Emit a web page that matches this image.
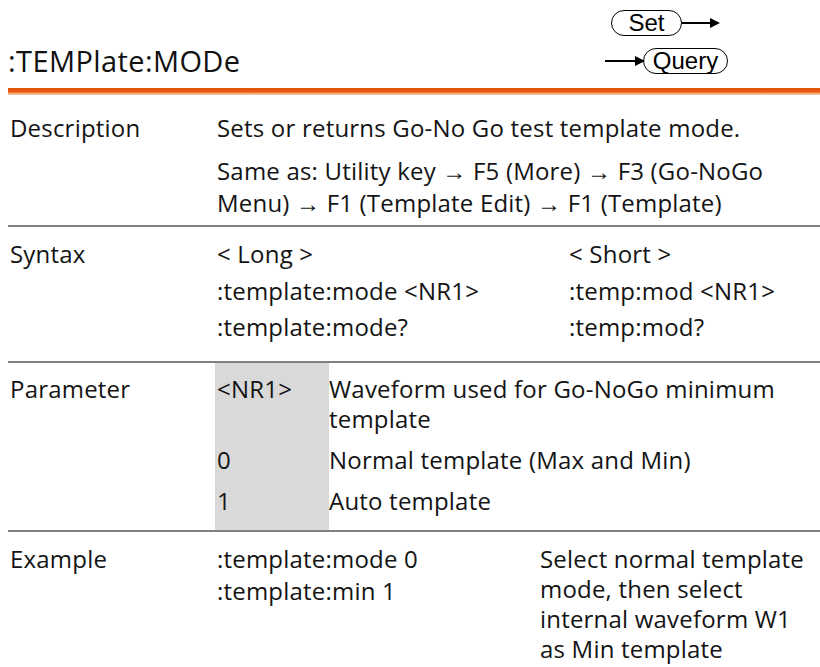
<!DOCTYPE html>
<html>
<head>
<meta charset="utf-8">
<script src="https://cdn.jsdelivr.net/npm/chart.js@4.4.1/dist/chart.umd.min.js"></script>
<style>
  html, body { margin: 0; padding: 0; background: #fff; }
  #page { position: relative; width: 820px; height: 667px; overflow: hidden;
          font-family: "Open Sans", "Noto Sans", sans-serif; color: #141414; }
  .ln { position: absolute; white-space: nowrap; font-size: 24px; line-height: 36px; letter-spacing: 0.2px; }
  .title { position: absolute; left: 8px; font-size: 29px; white-space: nowrap; line-height: 36px; letter-spacing: 0.4px; color: #111; }
  .rule { position: absolute; left: 8px; right: 0; height: 2px; background: #808080; }
  .orange { position: absolute; left: 8px; right: 0; top: 88px; height: 7px;
            background: linear-gradient(#e4500c 0, #e85a10 55%, #f4a46a 75%, #fbd3b0 100%); }
  .shade { position: absolute; left: 215px; width: 114px; top: 363px; height: 168px; background: #d9d9d9; }
  .pill { position: absolute; border: 1.6px solid #000; border-radius: 13px; box-sizing: border-box;
          font-family: "Liberation Sans", Arial, sans-serif; font-size: 24px; text-align: center; color: #000; }
  .arrow { position: absolute; height: 2px; background: #000; }
  .head { position: absolute; width: 0; height: 0; border-top: 5px solid transparent;
          border-bottom: 5px solid transparent; border-left: 10px solid #000; }
</style>
</head>
<body>
<div id="page">
  <div class="orange"></div>
  <div class="shade"></div>
</div>
<script>
// ---- page content (command reference entry) ----
const commandName = ':TEMPlate:MODe';
const labels = ['Description', 'Syntax', 'Parameter', 'Example'];
const labelBaselines = [137, 263, 398, 568];
const ruleTops = [225, 361, 530];

const descLines = ['Sets or returns Go-No Go test template mode.',
                   'Same as: Utility key \u2192 F5 (More) \u2192 F3 (Go-NoGo',
                   'Menu) \u2192 F1 (Template Edit) \u2192 F1 (Template)'];
const descBaselines = [137, 180, 212];

const syntaxLong = ['< Long >', ':template:mode <NR1>', ':template:mode?'];
const syntaxShort = ['< Short >', ':temp:mod <NR1>', ':temp:mod?'];
const syntaxBaselines = [263, 300, 336];

const paramValues = ['<NR1>', '', '0', '1'];
const paramText = ['Waveform used for Go-NoGo minimum', 'template',
                   'Normal template (Max and Min)', 'Auto template'];
const paramBaselines = [398, 428, 469, 510];

const exampleCmds = [':template:mode 0', ':template:min 1'];
const exampleCmdBaselines = [568, 600];
const exampleNote = ['Select normal template', 'mode, then select',
                     'internal waveform W1', 'as Min template'];
const exampleNoteBaselines = [568, 598, 628, 658];

// ---- layout ----
const page = document.getElementById('page');
const colLabel = 10, colMain = 217, colShort = 569, colParamText = 329, colNote = 540;
const fs = 24, lh = 36;

function put(text, x, baseline, cls, size) {
  const d = document.createElement('div');
  d.className = cls || 'ln';
  const f = size || fs;
  d.style.left = x + 'px';
  d.style.top = (baseline - (lh / 2 + 0.388 * f)) + 'px';
  d.textContent = text;
  page.appendChild(d);
  return d;
}

put(commandName, 8, 72, 'title', 29);

labels.forEach((t, i) => put(t, colLabel, labelBaselines[i]));
ruleTops.forEach(y => {
  const r = document.createElement('div');
  r.className = 'rule';
  r.style.top = y + 'px';
  page.appendChild(r);
});

descLines.forEach((t, i) => put(t, colMain, descBaselines[i]));
syntaxLong.forEach((t, i) => put(t, colMain, syntaxBaselines[i]));
syntaxShort.forEach((t, i) => put(t, colShort, syntaxBaselines[i]));
paramValues.forEach((t, i) => { if (t) put(t, colMain, paramBaselines[i]); });
paramText.forEach((t, i) => put(t, colParamText, paramBaselines[i]));
exampleCmds.forEach((t, i) => put(t, colMain, exampleCmdBaselines[i]));
exampleNote.forEach((t, i) => put(t, colNote, exampleNoteBaselines[i]));

// Set / Query badges
function pill(text, x, y, w, h) {
  const p = document.createElement('div');
  p.className = 'pill';
  Object.assign(p.style, { left: x + 'px', top: y + 'px', width: w + 'px', height: h + 'px', lineHeight: (h - 3) + 'px' });
  p.textContent = text;
  page.appendChild(p);
}
function arrow(x1, x2, y) {
  const a = document.createElement('div');
  a.className = 'arrow';
  Object.assign(a.style, { left: x1 + 'px', top: (y - 1) + 'px', width: (x2 - x1 - 8) + 'px' });
  page.appendChild(a);
  const h = document.createElement('div');
  h.className = 'head';
  Object.assign(h.style, { left: (x2 - 10) + 'px', top: (y - 5) + 'px' });
  page.appendChild(h);
}
pill('Set', 611, 10, 71, 26);
arrow(682, 720, 23);
arrow(605, 645, 61);
pill('Query', 643, 48, 85, 26);
</script>
</body>
</html>
